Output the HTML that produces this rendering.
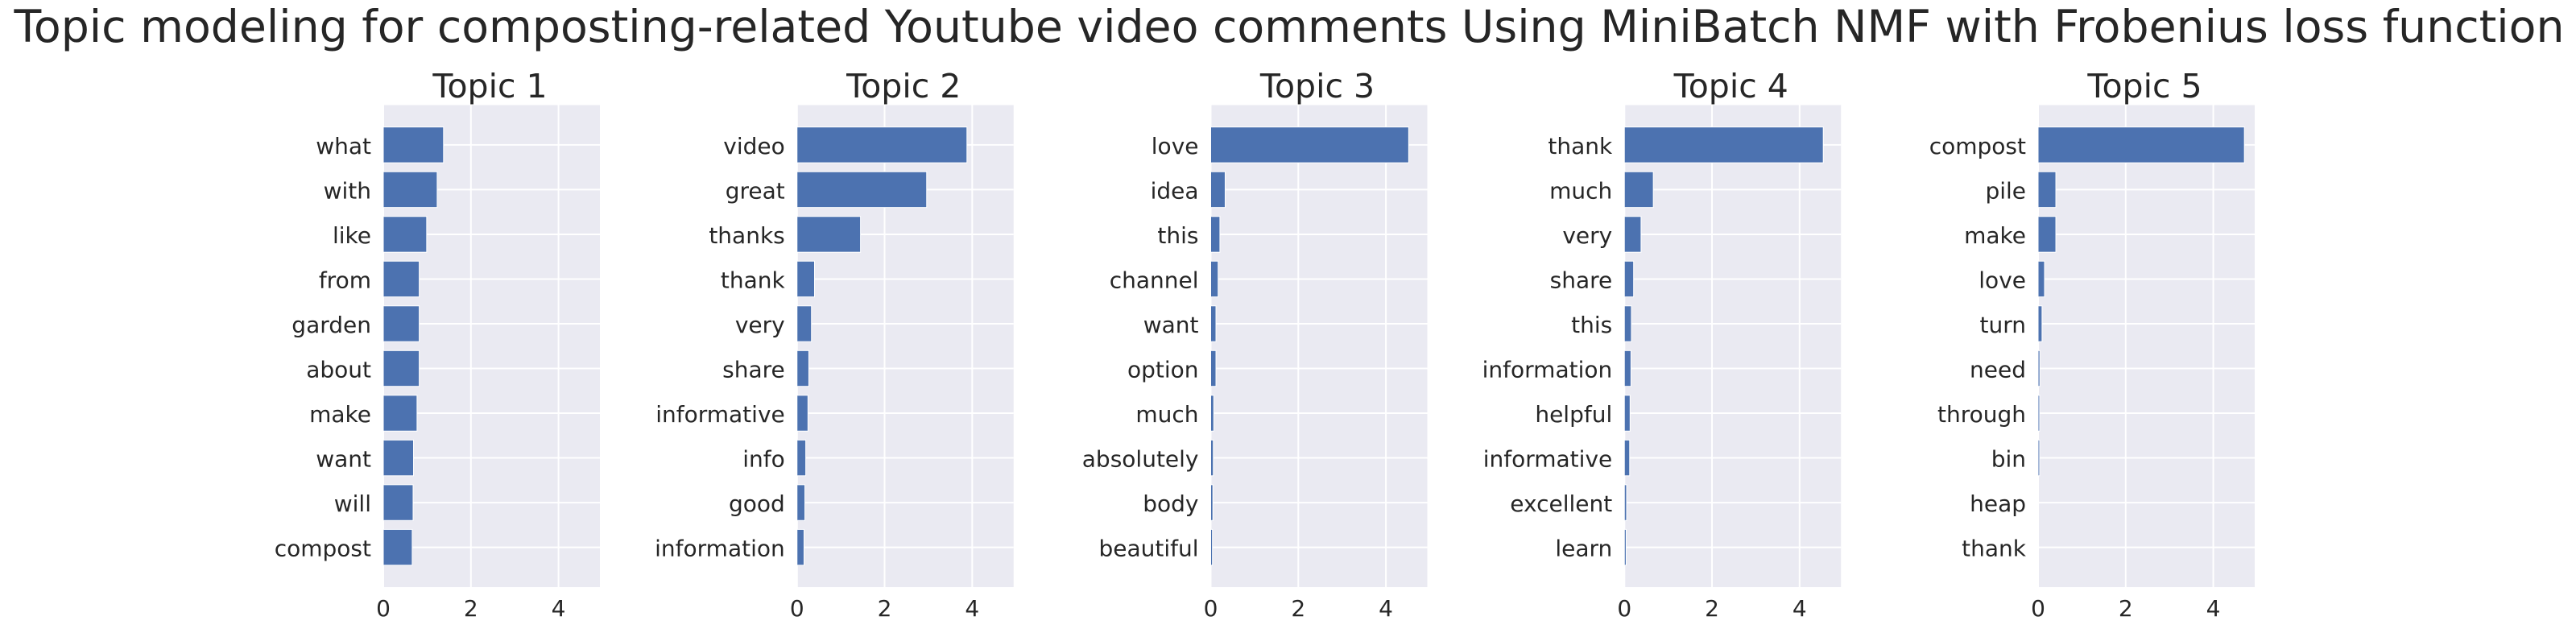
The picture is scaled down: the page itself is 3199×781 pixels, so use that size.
<!DOCTYPE html>
<html><head><meta charset="utf-8"><style>
html,body{margin:0;padding:0;background:#fff}
svg{display:block}
text{font-family:"DejaVu Sans","Liberation Sans",sans-serif;fill:#262626}
</style></head><body>
<svg id="chart" width="3199" height="781" viewBox="0 0 3199 781" xmlns="http://www.w3.org/2000/svg">
<text x="1601" y="52" font-size="55" text-anchor="middle" textLength="3167" lengthAdjust="spacingAndGlyphs">Topic modeling for composting-related Youtube video comments Using MiniBatch NMF with Frobenius loss function</text>
</svg>
<script>
const topicTitles = ["Topic 1","Topic 2","Topic 3","Topic 4","Topic 5"];
const words1 = ["what","with","like","from","garden","about","make","want","will","compost"];
const values1 = [1.375,1.23,0.99,0.82,0.82,0.82,0.77,0.69,0.68,0.66];
const words2 = ["video","great","thanks","thank","very","share","informative","info","good","information"];
const values2 = [3.88,2.96,1.45,0.40,0.33,0.27,0.25,0.20,0.18,0.16];
const words3 = ["love","idea","this","channel","want","option","much","absolutely","body","beautiful"];
const values3 = [4.52,0.33,0.21,0.17,0.12,0.12,0.07,0.06,0.05,0.04];
const words4 = ["thank","much","very","share","this","information","helpful","informative","excellent","learn"];
const values4 = [4.54,0.66,0.38,0.21,0.16,0.15,0.13,0.12,0.05,0.04];
const words5 = ["compost","pile","make","love","turn","need","through","bin","heap","thank"];
const values5 = [4.71,0.405,0.405,0.147,0.09,0.04,0.035,0.035,0.01,0.003];
const xTicks = [0,2,4];

const allWords=[words1,words2,words3,words4,words5];
const allValues=[values1,values2,values3,values4,values5];
const NS="http://www.w3.org/2000/svg";
const svg=document.getElementById('chart');
function mk(tag,attrs,parent){const e=document.createElementNS(NS,tag);for(const k in attrs)e.setAttribute(k,attrs[k]);(parent||svg).appendChild(e);return e;}
const axTop=130.5, axBottom=729, axW=269, pitch0=513.75, left0=476;
let gmax=0; allValues.forEach(v=>v.forEach(x=>{if(x>gmax)gmax=x;}));
const xMax=gmax*1.05;
for(let p=0;p<5;p++){
  const L=left0+p*pitch0;
  const words=allWords[p], vals=allValues[p], n=words.length;
  const yMin=-0.4-0.05*(n-1+0.8), yMax=n-1+0.4+0.05*(n-1+0.8);
  const X=v=>L+v/xMax*axW;
  const Y=i=>axTop+(i-yMin)/(yMax-yMin)*(axBottom-axTop);
  const g=mk('g',{});
  
  
  const bg=mk('rect',{x:L,y:axTop,width:axW,height:axBottom-axTop,fill:'#EAEAF2'},g);
  
  
  xTicks.forEach(t=>{
    const l=mk('line',{x1:X(t),x2:X(t),y1:axTop,y2:axBottom,stroke:'#fff','stroke-width':2},g);
    
    
    const tx=mk('text',{x:X(t),y:765,'font-size':28,'text-anchor':'middle'},g);
    tx.textContent=t;
    
    
  });
  for(let i=0;i<n;i++){
    const l=mk('line',{x1:L,x2:L+axW,y1:Y(i),y2:Y(i),stroke:'#fff','stroke-width':2},g);
    
    
  }
  for(let i=0;i<n;i++){
    const h=(Y(i+0.4)-Y(i-0.4));
    const r=mk('rect',{x:X(0),y:Y(i-0.4),width:Math.max(0,X(vals[i])-X(0)),height:h,fill:'#4C72B0',stroke:'#fff','stroke-width':1},g);
    
    
    const tx=mk('text',{x:L-15,y:Y(i)+11,'font-size':28,'text-anchor':'end'},g);
    tx.textContent=words[i];
    
    
  }
  const tt=mk('text',{x:L+axW/2-2,y:121,'font-size':41,'text-anchor':'middle'},g);
  tt.textContent=topicTitles[p];
  
  
}
</script>
</body></html>
